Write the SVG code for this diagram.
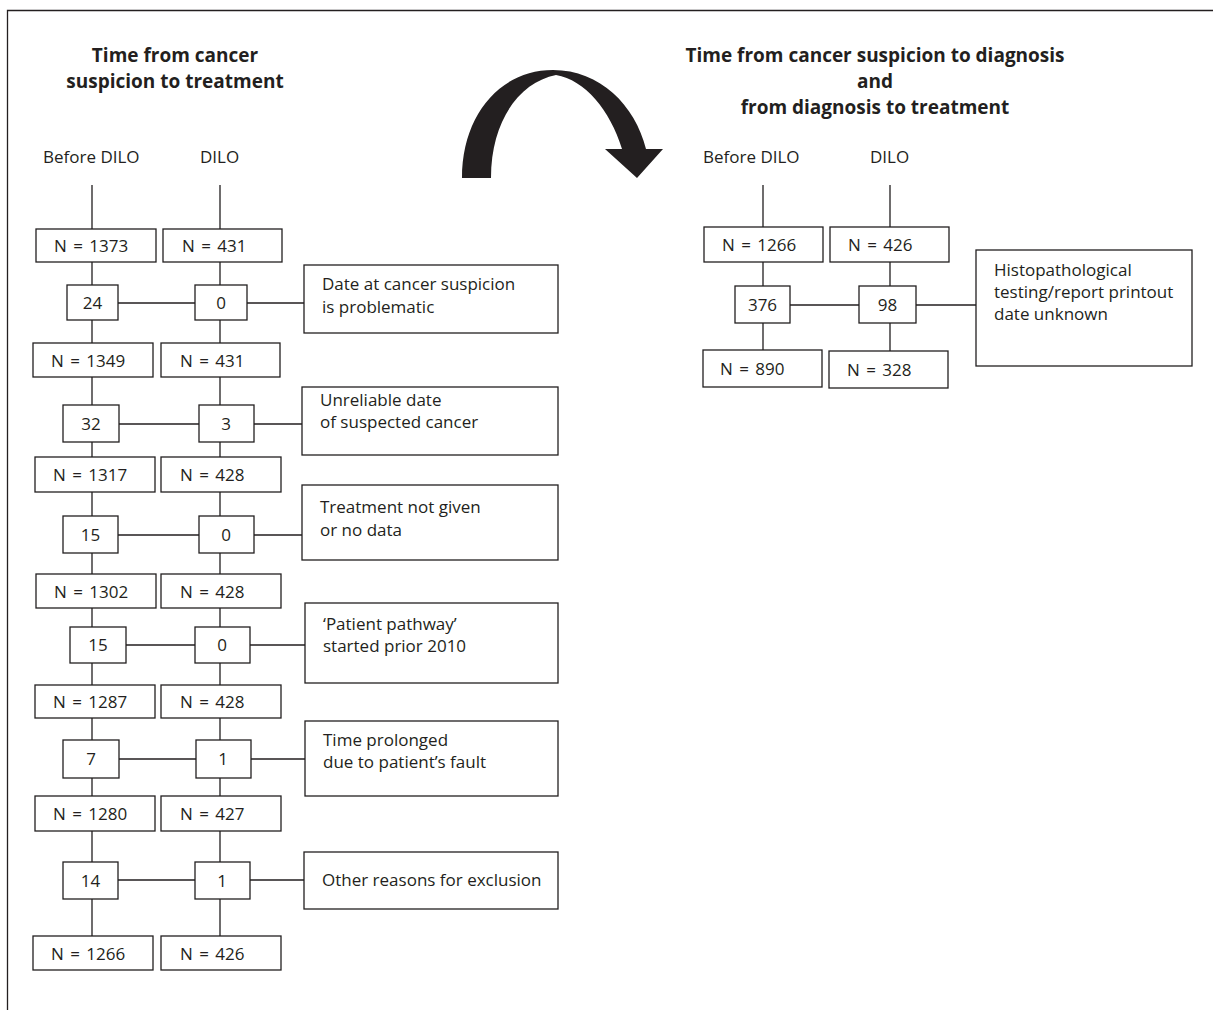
<svg xmlns="http://www.w3.org/2000/svg" width="1213" height="1010" viewBox="0 0 1213 1010">
<style>
  .bx{fill:#fff;stroke:#231f20;stroke-width:1.3}
  .ln{stroke:#231f20;stroke-width:1.3;fill:none}
  text{font-family:"Open Sans","Liberation Sans",Arial,sans-serif;font-size:17px;fill:#231f20}
  .h{font-weight:bold;font-size:19px;text-anchor:middle}
  .c{text-anchor:middle}
  .n{word-spacing:2px}
</style>
<rect width="1213" height="1010" fill="#fff"/>
<g id="frame"><path class="ln" d="M7.5 1010 V10.5 H1213" stroke-width="1.5"/></g>
<g id="titles">
  <text class="h" x="175" y="62">Time from cancer</text>
  <text class="h" x="175" y="88">suspicion to treatment</text>
  <text class="h" x="875" y="62">Time from cancer suspicion to diagnosis</text>
  <text class="h" x="875" y="88">and</text>
  <text class="h" x="875" y="114">from diagnosis to treatment</text>
  <text x="43" y="163">Before DILO</text>
  <text x="200" y="163">DILO</text>
  <text x="703" y="163">Before DILO</text>
  <text x="870" y="163">DILO</text>
</g>
<g id="arrow"><path fill="#231f20" d="M462 178 C462 115 500 70 553 70 C600 70 635 105 646 149 L663 149 L637 178 L605 149 L622 149 C610 110 585 80 556 75 C520 82 491 120 491 178 Z"/></g>
<g id="connectors">
  <path class="ln" d="M92 185 V936 M220 185 V936"/>
  <path class="ln" d="M118 303 H304 M119 424 H302 M118 535 H302 M126 645 H305 M119 759 H305 M118 880 H304"/>
  <path class="ln" d="M763 185 V350 M890 185 V351 M790 305 H976"/>
</g>
<g id="n1373"><rect class="bx" x="36" y="229" width="120" height="33"/><text class="n" x="54" y="252">N = 1373</text></g>
<g id="n431a"><rect class="bx" x="163" y="229" width="119" height="33"/><text class="n" x="182" y="252">N = 431</text></g>
<g id="x24"><rect class="bx" x="67" y="285" width="51" height="35"/><text class="c" x="92.5" y="309">24</text></g>
<g id="x0a"><rect class="bx" x="195" y="285" width="52" height="35"/><text class="c" x="221" y="309">0</text></g>
<g id="r1"><rect class="bx" x="304" y="265" width="254" height="68"/><text x="322" y="290">Date at cancer suspicion</text><text x="322" y="313">is problematic</text></g>
<g id="n1349"><rect class="bx" x="33" y="343" width="120" height="34"/><text class="n" x="51" y="367">N = 1349</text></g>
<g id="n431b"><rect class="bx" x="161" y="343" width="119" height="34"/><text class="n" x="180" y="367">N = 431</text></g>
<g id="x32"><rect class="bx" x="63" y="405" width="56" height="37"/><text class="c" x="91" y="430">32</text></g>
<g id="x3"><rect class="bx" x="199" y="405" width="55" height="37"/><text class="c" x="226" y="430">3</text></g>
<g id="r2"><rect class="bx" x="302" y="387" width="256" height="68"/><text x="320" y="406">Unreliable date</text><text x="320" y="428">of suspected cancer</text></g>
<g id="n1317"><rect class="bx" x="35" y="457" width="120" height="35"/><text class="n" x="53" y="481">N = 1317</text></g>
<g id="n428a"><rect class="bx" x="161" y="457" width="120" height="35"/><text class="n" x="180" y="481">N = 428</text></g>
<g id="x15a"><rect class="bx" x="63" y="516" width="55" height="37"/><text class="c" x="90.5" y="541">15</text></g>
<g id="x0b"><rect class="bx" x="199" y="516" width="55" height="37"/><text class="c" x="226" y="541">0</text></g>
<g id="r3"><rect class="bx" x="302" y="485" width="256" height="75"/><text x="320" y="513">Treatment not given</text><text x="320" y="536">or no data</text></g>
<g id="n1302"><rect class="bx" x="36" y="574" width="120" height="34"/><text class="n" x="54" y="598">N = 1302</text></g>
<g id="n428b"><rect class="bx" x="161" y="574" width="120" height="34"/><text class="n" x="180" y="598">N = 428</text></g>
<g id="x15b"><rect class="bx" x="70" y="627" width="56" height="36"/><text class="c" x="98" y="651">15</text></g>
<g id="x0c"><rect class="bx" x="195" y="627" width="55" height="36"/><text class="c" x="222" y="651">0</text></g>
<g id="r4"><rect class="bx" x="305" y="603" width="253" height="80"/><text x="323" y="630">‘Patient pathway’</text><text x="323" y="652">started prior 2010</text></g>
<g id="n1287"><rect class="bx" x="35" y="685" width="120" height="33"/><text class="n" x="53" y="708">N = 1287</text></g>
<g id="n428c"><rect class="bx" x="161" y="685" width="120" height="33"/><text class="n" x="180" y="708">N = 428</text></g>
<g id="x7"><rect class="bx" x="63" y="740" width="56" height="38"/><text class="c" x="91" y="765">7</text></g>
<g id="x1a"><rect class="bx" x="196" y="740" width="55" height="38"/><text class="c" x="223" y="765">1</text></g>
<g id="r5"><rect class="bx" x="305" y="721" width="253" height="75"/><text x="323" y="746">Time prolonged</text><text x="323" y="768">due to patient’s fault</text></g>
<g id="n1280"><rect class="bx" x="35" y="796" width="120" height="35"/><text class="n" x="53" y="820">N = 1280</text></g>
<g id="n427"><rect class="bx" x="161" y="796" width="120" height="35"/><text class="n" x="180" y="820">N = 427</text></g>
<g id="x14"><rect class="bx" x="63" y="862" width="55" height="37"/><text class="c" x="90.5" y="887">14</text></g>
<g id="x1b"><rect class="bx" x="195" y="862" width="55" height="37"/><text class="c" x="222" y="887">1</text></g>
<g id="r6"><rect class="bx" x="304" y="852" width="254" height="57"/><text x="322" y="886">Other reasons for exclusion</text></g>
<g id="n1266a"><rect class="bx" x="33" y="936" width="120" height="34"/><text class="n" x="51" y="960">N = 1266</text></g>
<g id="n426a"><rect class="bx" x="161" y="936" width="120" height="34"/><text class="n" x="180" y="960">N = 426</text></g>
<g id="n1266b"><rect class="bx" x="704" y="227" width="119" height="35"/><text class="n" x="722" y="251">N = 1266</text></g>
<g id="n426b"><rect class="bx" x="830" y="227" width="119" height="35"/><text class="n" x="848" y="251">N = 426</text></g>
<g id="x376"><rect class="bx" x="735" y="286" width="55" height="37"/><text class="c" x="762.5" y="311">376</text></g>
<g id="x98"><rect class="bx" x="859" y="286" width="57" height="37"/><text class="c" x="887.5" y="311">98</text></g>
<g id="r7"><rect class="bx" x="976" y="250" width="216" height="116"/><text x="994" y="276">Histopathological</text><text x="994" y="298">testing/report printout</text><text x="994" y="320">date unknown</text></g>
<g id="n890"><rect class="bx" x="703" y="350" width="119" height="37"/><text class="n" x="720" y="375">N = 890</text></g>
<g id="n328"><rect class="bx" x="829" y="351" width="119" height="37"/><text class="n" x="847" y="376">N = 328</text></g>
</svg>
